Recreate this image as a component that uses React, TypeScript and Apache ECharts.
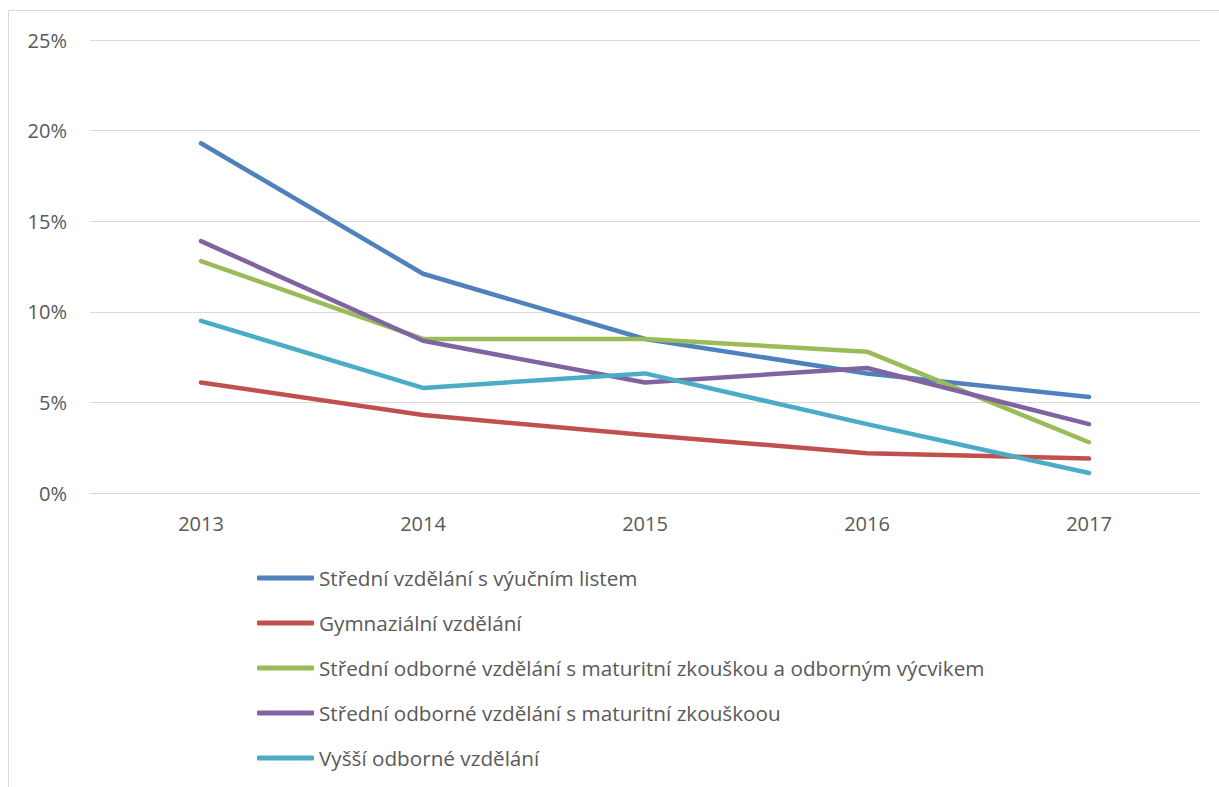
import React, { useEffect, useRef } from "react";
import * as echarts from "echarts";

const years = ["2013", "2014", "2015", "2016", "2017"];
const seriesNames = [
  "Střední vzdělání s výučním listem",
  "Gymnaziální vzdělání",
  "Střední odborné vzdělání s maturitní zkouškou a odborným výcvikem",
  "Střední odborné vzdělání s maturitní zkouškoou",
  "Vyšší odborné vzdělání",
];
const vyucniList = [19.3, 12.1, 8.5, 6.6, 5.3];
const gymnazium = [6.1, 4.3, 3.2, 2.2, 1.9];
const odborneVycvik = [12.8, 8.5, 8.5, 7.8, 2.8];
const odborneMaturita = [13.9, 8.4, 6.1, 6.9, 3.8];
const vyssiOdborne = [9.5, 5.8, 6.6, 3.8, 1.1];
const colors = ["#4F81BD", "#C0504D", "#9BBB59", "#8064A2", "#4BACC6"];

const FONT = "'Open Sans', sans-serif";

export default function App() {
  const ref = useRef<HTMLDivElement>(null);

  useEffect(() => {
    if (!ref.current) return;
    const chart = echarts.init(ref.current, null, { renderer: "svg" });
    const values = [vyucniList, gymnazium, odborneVycvik, odborneMaturita, vyssiOdborne];
    chart.setOption({
      animation: false,
      backgroundColor: "#ffffff",
      color: colors,
      graphic: [
        {
          type: "rect",
          shape: { x: 8.5, y: 10.5, width: 1400, height: 1000 },
          style: { fill: "none", stroke: "#d9d9d9", lineWidth: 1 },
          silent: true,
        },
      ],
      grid: { left: 90, right: 19, top: 40, bottom: 294, containLabel: false },
      xAxis: {
        type: "category",
        data: years,
        boundaryGap: true,
        axisLine: { show: true, lineStyle: { color: "#d9d9d9", width: 1 } },
        axisTick: { show: false },
        axisLabel: { color: "#595959", fontFamily: FONT, fontSize: 20, margin: 20 },
      },
      yAxis: {
        type: "value",
        min: 0,
        max: 25,
        interval: 5,
        axisLine: { show: false },
        axisTick: { show: false },
        splitLine: { lineStyle: { color: "#d9d9d9", width: 1 } },
        axisLabel: {
          color: "#595959",
          fontFamily: FONT,
          fontSize: 20,
          margin: 23,
          formatter: (v: number) => `${v}%`,
        },
      },
      legend: {
        orient: "vertical",
        left: 252,
        top: 561,
        itemGap: 21,
        itemWidth: 57,
        itemHeight: 5,
        icon: "roundRect",
        textStyle: { color: "#595959", fontFamily: FONT, fontSize: 20.7, lineHeight: 24 },
        data: seriesNames,
      },
      series: seriesNames.map((name, i) => ({
        name,
        type: "line",
        data: values[i],
        showSymbol: false,
        symbol: "none",
        lineStyle: { width: 4.5, color: colors[i], cap: "round", join: "round" },
        itemStyle: { color: colors[i] },
      })),
    });
    return () => chart.dispose();
  }, []);

  return (
    <div
      ref={ref}
      style={{ position: "fixed", left: 0, top: 0, width: 1219, height: 787 }}
    />
  );
}
